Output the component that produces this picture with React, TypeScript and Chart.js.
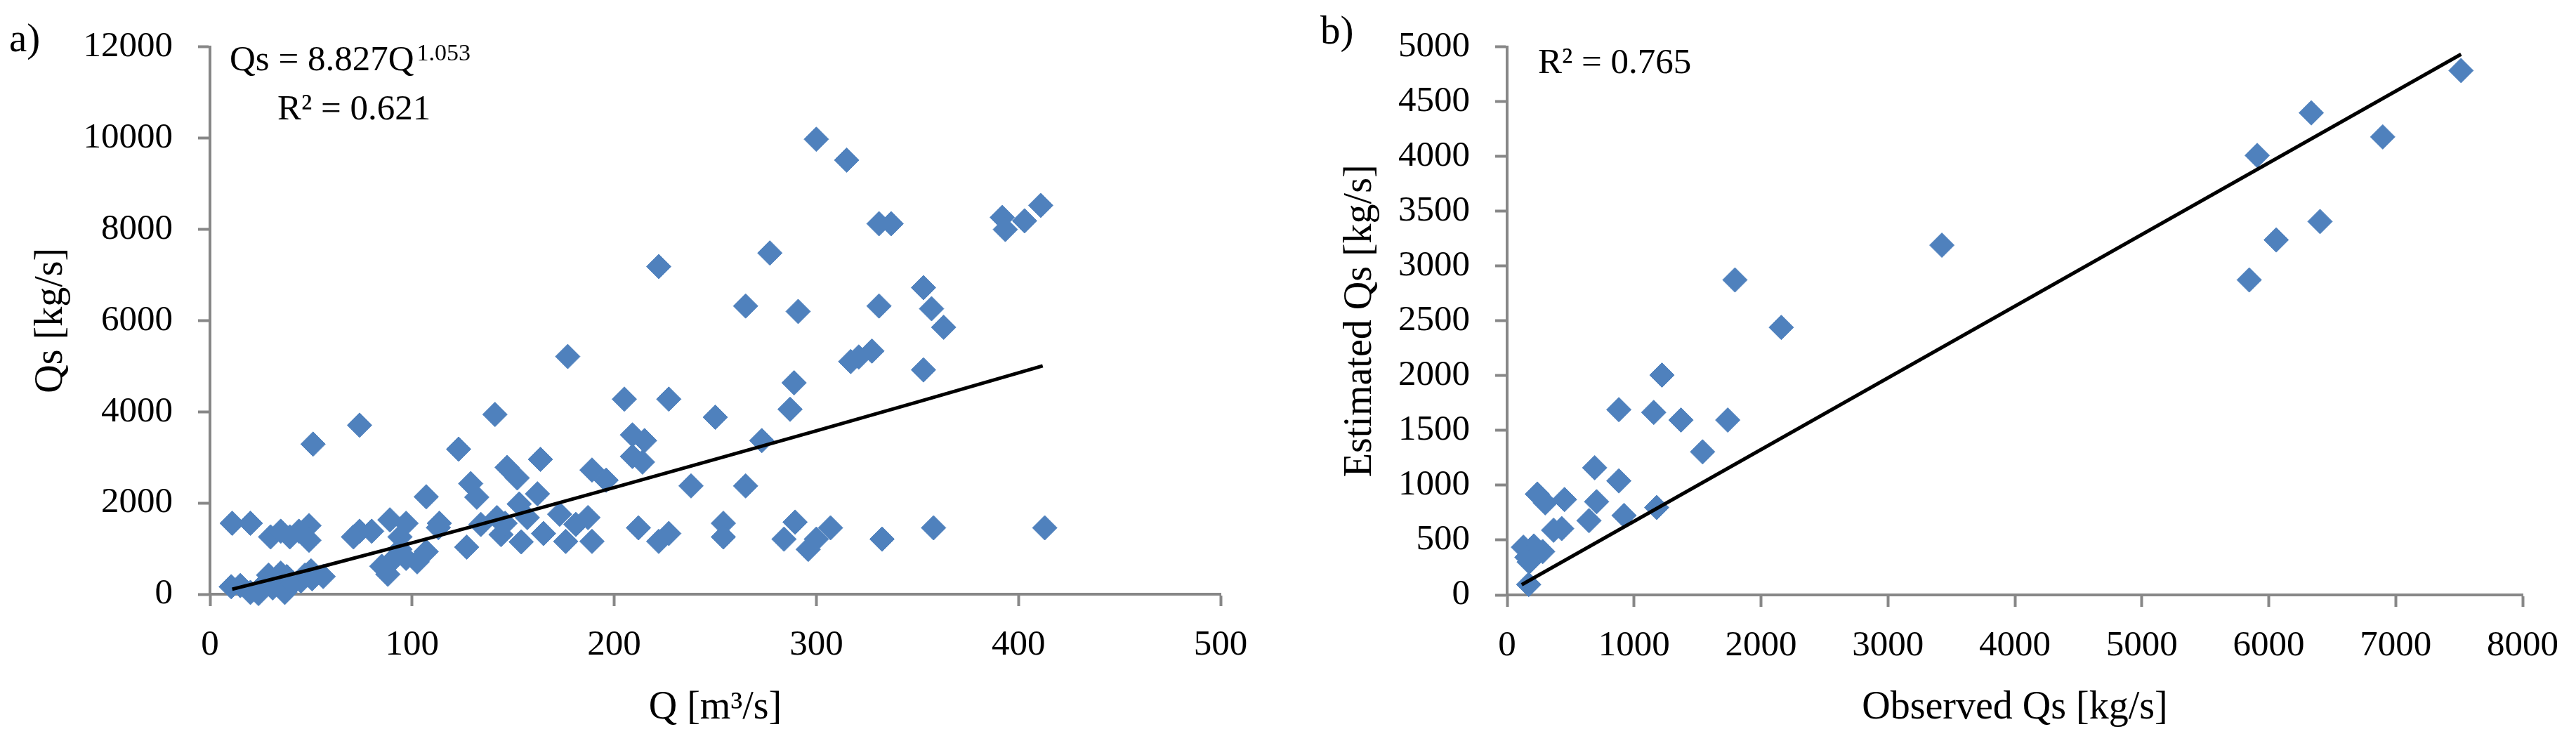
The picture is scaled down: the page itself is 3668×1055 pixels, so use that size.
import React, { useEffect, useRef } from "react";
import { Chart, registerables } from "chart.js";
Chart.register(...registerables);

// ---------- Panel a) data : Q [m3/s] vs Qs [kg/s] ----------
const dischargeQ = [
  10.5, 15, 20, 24, 26, 30, 31, 35, 38, 37, 41, 45, 50, 50.5, 56, 47, 29,
  11, 20, 30, 35, 39.5, 44, 49, 49,
  51, 74, 71, 74, 80, 89, 97, 94, 94, 97, 89, 88, 85, 102.5, 107, 107, 113.5, 113,
  123, 127, 129, 132, 134, 141, 142, 144, 146, 147, 152, 153, 154, 157, 162, 163.5, 165,
  173, 176, 177, 181, 187, 189, 189, 196, 205, 209, 209, 212, 214, 215, 222, 222, 227, 227,
  238, 250, 254, 254, 265, 265, 273, 277, 284, 287, 289, 289.5, 291, 296, 300, 300,
  307, 315, 317, 321, 327.5, 331, 331, 332.5, 337, 353, 353, 357, 358, 363, 392, 393.5, 403, 411, 413,
];
const sedimentQs = [
  164, 190, 40, 15, 190, 338, 139, 462, 387, 40, 238, 288, 511, 338, 387, 420, 420,
  1555, 1555, 1256, 1380, 1256, 1380, 1505, 1182,
  3290, 3705, 1256, 1380, 1380, 1630, 1554, 1256, 983, 785, 685, 437, 611, 710, 934, 2136, 1555, 1460,
  3180, 1033, 2424, 2126, 1530, 3940, 1680, 1306, 1555, 2780, 2548, 1977, 1147, 1680, 2200, 2955, 1330,
  1753, 1157, 5210, 1530, 1680, 1157, 2722, 2499, 4276, 3492, 3020, 1455, 2896, 3367, 7182, 1157, 1331, 4276,
  2374, 3879, 1554, 1256, 6318, 2374, 3367, 7480, 1207, 4053, 4634, 1580, 6198, 983, 1207, 9973,
  1455, 9516, 5100, 5200, 5330, 8121, 6318, 1207, 8121, 6720, 4917, 6258, 1455, 5851, 8259, 7996, 8185, 8523, 1455,
];
// power trend line
const trendQ = [11, 50, 100, 150, 200, 250, 300, 350, 412];
const trendQs = [110, 543, 1126, 1727, 2337, 2957, 3583, 4212, 5006];

const xTicksA = [0, 100, 200, 300, 400, 500];
const yTicksA = [0, 2000, 4000, 6000, 8000, 10000, 12000];

// ---------- Panel b) data : observed vs estimated Qs ----------
const observedQs = [
  7515, 6335, 6898, 5909, 6404, 6059, 5846, 3425, 1795, 2160, 1220, 880, 1155, 1370, 1738, 1540,
  690, 880, 238, 300, 452, 705, 1178, 921, 645, 366, 430, 128, 211, 280, 156, 174, 170,
];
const estimatedQs = [
  4783, 4397, 4178, 4009, 3406, 3238, 2873, 3190, 2873, 2440, 2005, 1690, 1665, 1595, 1595, 1305,
  1160, 1040, 920, 840, 870, 850, 797, 725, 677, 590, 605, 435, 446, 395, 343, 300, 95,
];
const fitObserved = [115, 7515];
const fitEstimated = [93, 4932];

const xTicksB = [0, 1000, 2000, 3000, 4000, 5000, 6000, 7000, 8000];
const yTicksB = [0, 500, 1000, 1500, 2000, 2500, 3000, 3500, 4000, 4500, 5000];

const BLUE = "#4F81BD";
const AXIS = "#878787";
const FONT = '"Liberation Serif", "Times New Roman", serif';
const H = 1055;

function zip(xs: number[], ys: number[]) {
  return xs.map((x, i) => ({ x, y: ys[i] }));
}

function axisCommon(min: number, max: number, ticks: number[]) {
  return {
    type: "linear" as const,
    min,
    max,
    afterBuildTicks: (s: any) => {
      s.ticks = ticks.map((v) => ({ value: v }));
    },
    border: { display: true, color: AXIS, width: 4 },
    grid: {
      display: true,
      drawOnChartArea: false,
      drawTicks: true,
      tickLength: 17,
      tickColor: AXIS,
      tickWidth: 4,
    },
    ticks: {
      color: "#000",
      font: { family: FONT, size: 51 },
      callback: (v: any) => String(v),
    },
  };
}

type PanelCfg = {
  width: number;
  left: number;
  right: number;
  top: number;
  bottom: number;
  xMin: number;
  xMax: number;
  yMin: number;
  yMax: number;
  xTicks: number[];
  yTicks: number[];
  xTitle: string;
  yTitle: string;
  yTitlePad: number;
  points: { x: number; y: number }[];
  line: { x: number; y: number }[];
  annotate: (ctx: CanvasRenderingContext2D) => void;
};

function buildChart(canvas: HTMLCanvasElement, p: PanelCfg) {
  const xAxis: any = axisCommon(p.xMin, p.xMax, p.xTicks);
  xAxis.ticks.padding = 25;
  xAxis.ticks.maxRotation = 0;
  xAxis.title = {
    display: true,
    text: p.xTitle,
    color: "#000",
    font: { family: FONT, size: 56 },
    padding: { top: 0, bottom: 13 },
  };
  xAxis.afterFit = (s: any) => {
    s.height = H - p.bottom;
  };
  const yAxis: any = axisCommon(p.yMin, p.yMax, p.yTicks);
  yAxis.ticks.padding = 36;
  yAxis.title = {
    display: true,
    text: p.yTitle,
    color: "#000",
    font: { family: FONT, size: 56 },
    padding: { top: p.yTitlePad, bottom: 0 },
  };
  yAxis.afterFit = (s: any) => {
    s.width = p.left;
  };

  const annot = {
    id: "annot",
    afterDraw(chart: any) {
      const ctx = chart.ctx as CanvasRenderingContext2D;
      ctx.save();
      ctx.fillStyle = "#000";
      ctx.textBaseline = "alphabetic";
      ctx.textAlign = "left";
      p.annotate(ctx);
      ctx.restore();
    },
  };

  return new Chart(canvas, {
    type: "scatter",
    data: {
      datasets: [
        {
          type: "line",
          data: p.line,
          borderColor: "#000",
          borderWidth: 5,
          pointRadius: 0,
          tension: 0,
          fill: false,
          order: 0,
        } as any,
        {
          data: p.points,
          pointStyle: "rectRot",
          pointRadius: 17.5,
          pointHoverRadius: 17.5,
          backgroundColor: BLUE,
          borderColor: BLUE,
          borderWidth: 1,
          showLine: false,
          clip: false,
          order: 1,
        } as any,
      ],
    },
    options: {
      animation: false,
      responsive: false,
      maintainAspectRatio: false,
      devicePixelRatio: 1,
      layout: {
        padding: { left: 0, top: p.top, right: p.width - p.right, bottom: 0 },
      },
      plugins: { legend: { display: false }, tooltip: { enabled: false } },
      scales: { x: xAxis, y: yAxis },
    },
    plugins: [annot],
  });
}

const WA = 1840;
const WB = 3668 - 1840;

export default function App() {
  const refA = useRef<HTMLCanvasElement>(null);
  const refB = useRef<HTMLCanvasElement>(null);

  useEffect(() => {
    document.body.style.margin = "0";
    const a = buildChart(refA.current!, {
      width: WA,
      left: 299,
      right: 1738,
      top: 41,
      bottom: 846,
      xMin: 0,
      xMax: 500,
      yMin: 0,
      yMax: 12000,
      xTicks: xTicksA,
      yTicks: yTicksA,
      xTitle: "Q [m³/s]",
      yTitle: "Qs [kg/s]",
      yTitlePad: 40,
      points: zip(dischargeQ, sedimentQs),
      line: zip(trendQ, trendQs),
      annotate: (ctx) => {
        ctx.font = `57px ${FONT}`;
        ctx.fillText("a)", 13, 73);
        ctx.font = `51px ${FONT}`;
        const main = "Qs = 8.827Q";
        ctx.fillText(main, 327, 100);
        const w = ctx.measureText(main).width;
        ctx.font = `34px ${FONT}`;
        ctx.fillText("1.053", 327 + w + 4, 86);
        ctx.font = `51px ${FONT}`;
        ctx.fillText("R² = 0.621", 395, 170);
      },
    });
    const b = buildChart(refB.current!, {
      width: WB,
      left: 306,
      right: 3601 - 1840,
      top: 40,
      bottom: 847,
      xMin: 0,
      xMax: 8000,
      yMin: 0,
      yMax: 5000,
      xTicks: xTicksB,
      yTicks: yTicksB,
      xTitle: "Observed Qs [kg/s]",
      yTitle: "Estimated Qs [kg/s]",
      yTitlePad: 64,
      points: zip(observedQs, estimatedQs),
      line: zip(fitObserved, fitEstimated),
      annotate: (ctx) => {
        ctx.font = `57px ${FONT}`;
        ctx.fillText("b)", 40, 62);
        ctx.font = `51px ${FONT}`;
        ctx.fillText("R² = 0.765", 350, 104);
      },
    });
    return () => {
      a.destroy();
      b.destroy();
    };
  }, []);

  return (
    <div
      style={{
        position: "absolute",
        left: 0,
        top: 0,
        width: 3668,
        height: H,
        background: "#fff",
        overflow: "hidden",
      }}
    >
      <canvas
        ref={refA}
        width={WA}
        height={H}
        style={{ position: "absolute", left: 0, top: 0, width: WA, height: H }}
      />
      <canvas
        ref={refB}
        width={WB}
        height={H}
        style={{ position: "absolute", left: WA, top: 0, width: WB, height: H }}
      />
    </div>
  );
}
